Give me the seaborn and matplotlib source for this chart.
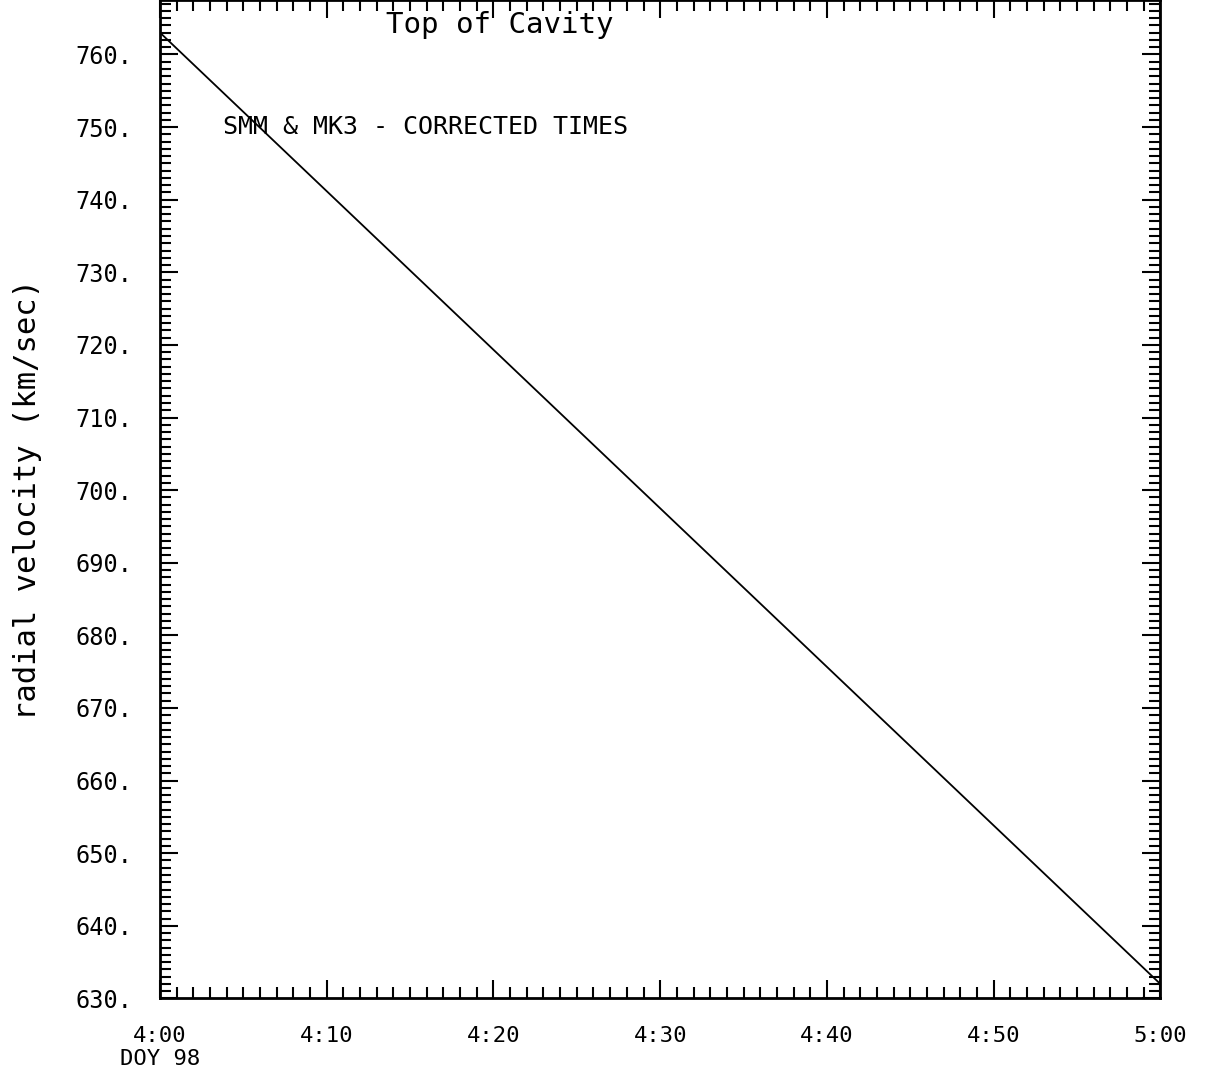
import pandas as pd
import matplotlib.pyplot as plt
import seaborn as sns
from matplotlib.ticker import MultipleLocator

# Data (minutes after 4:00 UT, DOY 98)
minutes = [0, 60]
velocity = [763.0, 632.0]

x_ticks = [0, 10, 20, 30, 40, 50, 60]
x_tick_labels = ["4:00\nDOY 98", "4:10", "4:20", "4:30", "4:40", "4:50", "5:00"]
y_ticks = [630, 640, 650, 660, 670, 680, 690, 700, 710, 720, 730, 740, 750, 760]
y_tick_labels = [f"{v}." for v in y_ticks]

df = pd.DataFrame({"minutes": minutes, "velocity": velocity})

sns.set_style("ticks")
plt.rcParams['font.family'] = ['DejaVu Sans Mono', 'DejaVu Sans']
plt.rcParams['text.color'] = 'black'
plt.rcParams['xtick.labelcolor'] = 'black'
plt.rcParams['ytick.labelcolor'] = 'black'
plt.rcParams['axes.labelcolor'] = 'black'

fig = plt.figure(figsize=(12.08, 10.69), dpi=100)
ax = fig.add_axes([0.1325, 0.066, 0.828, 0.934])

sns.lineplot(data=df, x="minutes", y="velocity", color="black", linewidth=1.3, ax=ax)

ax.set_xlim(0, 60)
ax.set_ylim(630, 767.5)

ax.set_xticks(x_ticks)
ax.set_xticklabels(x_tick_labels, fontsize=16)
ax.set_yticks(y_ticks)
ax.set_yticklabels(y_tick_labels, fontsize=17)
ax.xaxis.set_minor_locator(MultipleLocator(1))
ax.yaxis.set_minor_locator(MultipleLocator(1))

ax.tick_params(which="both", direction="in", top=True, right=True, color="black", width=1.5)
ax.tick_params(which="major", length=13)
ax.tick_params(which="minor", length=8)
ax.tick_params(axis="x", which="major", pad=20)
ax.tick_params(axis="y", which="major", pad=20)

for side in ax.spines.values():
    side.set_linewidth(2)
    side.set_color("black")

ax.set_xlabel("")
ax.set_ylabel("radial velocity (km/sec)", fontsize=22, labelpad=24)

ax.text(0.34, 0.975, "Top of Cavity", transform=ax.transAxes, fontsize=21,
        ha="center", va="center")
ax.text(3.8, 750, "SMM & MK3 - CORRECTED TIMES", fontsize=18, ha="left", va="center")

plt.savefig("out.png", dpi=100)
